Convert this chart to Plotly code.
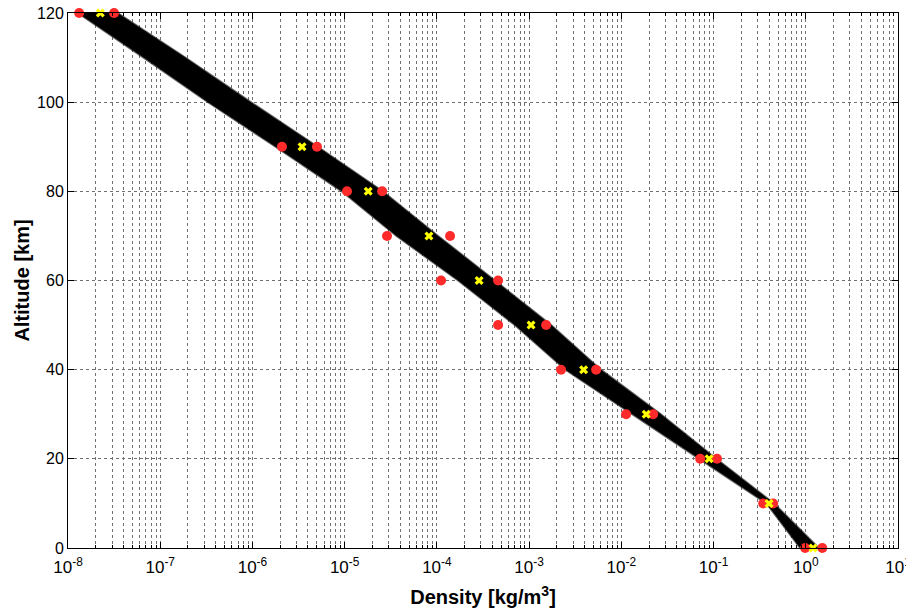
import plotly.graph_objects as go

# ---- data ----
altitude_band = [0, 10, 20, 30, 40, 50, 60, 70, 80, 90, 100, 110, 120]
band_min = [0.87, 0.375, 0.0700, 0.0130, 0.00248, 7.0e-4, 1.70e-4, 3.65e-5,
            9.3e-6, 1.78e-6, 3.30e-7, 6.6e-8, 1.28e-8]
band_max = [1.38, 0.452, 0.107, 0.0268, 0.0060, 0.00173, 4.25e-4, 1.03e-4,
            2.58e-5, 5.1e-6, 9.6e-7, 1.87e-7, 3.45e-8]

marker_alt = [0, 10, 20, 30, 40, 50, 60, 70, 80, 90, 120]
rho_low = [0.984, 0.345, 0.0716, 0.01127, 0.00222, 4.61e-4, 1.11e-4, 2.88e-5,
           1.06e-5, 2.09e-6, 1.32e-8]
rho_nom = [1.2, 0.40, 0.0895, 0.0186, 0.0039, 0.00105, 2.87e-4, 8.2e-5,
           1.8e-5, 3.45e-6, 2.24e-8]
rho_high = [1.51, 0.443, 0.109, 0.0221, 0.00533, 0.00153, 4.61e-4, 1.39e-4,
            2.55e-5, 5.01e-6, 3.16e-8]

x_tick_vals = [1e-8, 1e-7, 1e-6, 1e-5, 1e-4, 1e-3, 1e-2, 1e-1, 1e0, 1e1]
x_tick_text = ["10<sup>-8</sup>", "10<sup>-7</sup>", "10<sup>-6</sup>", "10<sup>-5</sup>",
               "10<sup>-4</sup>", "10<sup>-3</sup>", "10<sup>-2</sup>", "10<sup>-1</sup>",
               "10<sup>0</sup>", "10<sup>1</sup>"]
y_tick_vals = [0, 20, 40, 60, 80, 100, 120]

minor_x = [k * d for d in x_tick_vals[:-1] for k in range(2, 10)]

FONT = "Liberation Sans, Arial, Helvetica, sans-serif"

fig = go.Figure()
fig.add_trace(go.Scatter(
    x=band_min + band_max[::-1],
    y=altitude_band + altitude_band[::-1],
    mode="lines", fill="toself", fillcolor="black",
    line=dict(color="rgba(0,0,0,0.6)", width=2), hoverinfo="skip", showlegend=False))
fig.add_trace(go.Scatter(
    x=rho_low + rho_high, y=marker_alt + marker_alt, mode="markers",
    marker=dict(color="#ff2b2b", size=10, symbol="circle"),
    cliponaxis=False, showlegend=False))
fig.add_trace(go.Scatter(
    x=rho_nom, y=marker_alt, mode="markers",
    marker=dict(color="#ffff00", size=8, symbol="x", line=dict(width=0)),
    cliponaxis=False, showlegend=False))

grid_color = "#707070"
fig.update_layout(
    width=906, height=611,
    margin=dict(l=68, r=8, t=13, b=63),
    paper_bgcolor="white", plot_bgcolor="white",
    font=dict(family=FONT, color="black", size=16),
    xaxis=dict(
        type="log", range=[-8, 1], automargin=False,
        tickmode="array", tickvals=x_tick_vals, ticktext=x_tick_text,
        ticks="inside", ticklen=6, tickcolor="black",
        showline=True, linecolor="black", linewidth=1, mirror="ticks",
        showgrid=True, gridcolor=grid_color, griddash="dot", gridwidth=1,
        minor=dict(tickmode="array", tickvals=minor_x, ticks="inside", ticklen=3,
                   tickcolor="black", showgrid=True, gridcolor=grid_color,
                   griddash="dot", gridwidth=1),
        tickfont=dict(size=17), ticklabelstandoff=4, ticklabeloverflow="allow",
        title=dict(text="<b>Density [kg/m<sup>3</sup>]</b>", font=dict(size=20), standoff=13),
        zeroline=False,
    ),
    yaxis=dict(
        range=[0, 120], tickmode="array", tickvals=y_tick_vals, automargin=False,
        ticks="inside", ticklen=6, tickcolor="black",
        showline=True, linecolor="black", linewidth=1, mirror="ticks",
        showgrid=True, gridcolor=grid_color, griddash="dot", gridwidth=1,
        tickfont=dict(size=16),
        title=dict(text="<b>Altitude [km]</b>", font=dict(size=20), standoff=2),
        zeroline=False,
    ),
)

fig.write_html("out.html", config={"displayModeBar": False},
               post_script="document.body.style.margin='0';")
